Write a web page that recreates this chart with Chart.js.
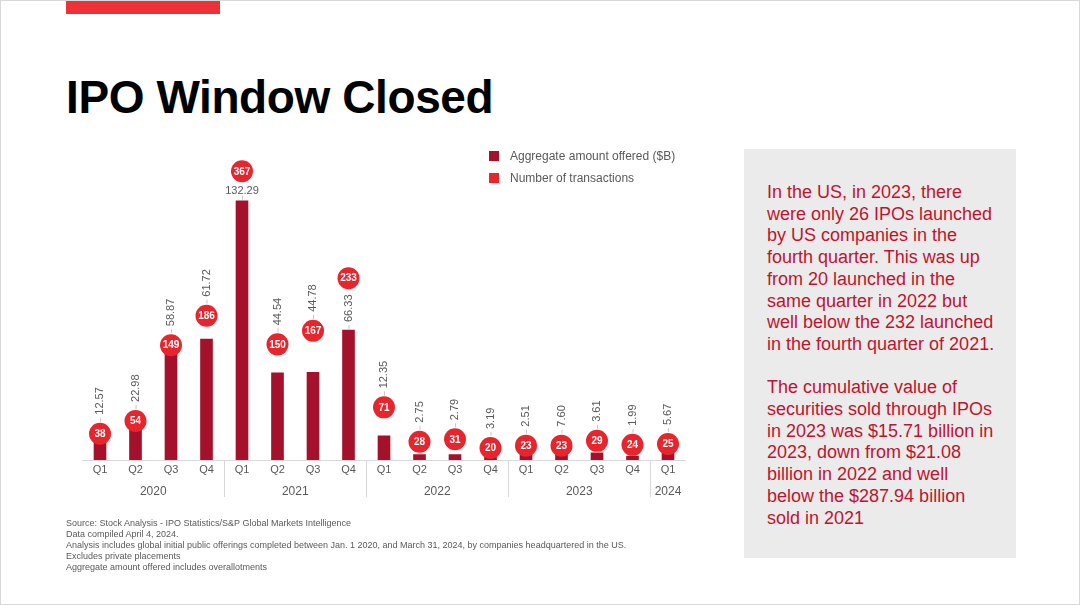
<!DOCTYPE html>
<html>
<head>
<meta charset="utf-8">
<title>IPO Window Closed</title>
<script src="https://cdn.jsdelivr.net/npm/chart.js@4.4.1/dist/chart.umd.min.js"></script>
<style>
  body { margin: 0; width: 1080px; height: 605px; position: relative; background: #fff; font-family: "Liberation Sans", Arial, sans-serif; overflow: hidden; }
  #frame { position: absolute; left: 0; top: 0; width: 1078px; height: 603px; border: 1px solid #d9d9d9; }
  #redbar { position: absolute; left: 66px; top: 1px; width: 154px; height: 13px; background: #ee3136; }
  h1 { position: absolute; left: 66px; top: 74px; margin: 0; font-size: 46px; line-height: 46px; font-weight: bold; color: #000; letter-spacing: -0.4px; }
  #chartBox { position: absolute; left: 66px; top: 140px; width: 640px; height: 380px; }
  #legend { position: absolute; left: 489px; top: 148px; font-size: 12px; color: #595959; }
  #legend div { height: 22px; line-height: 16px; }
  #legend span { display: inline-block; width: 10px; height: 10px; margin-right: 11px; vertical-align: -1px; }
  #panel { position: absolute; left: 744px; top: 149px; width: 272px; height: 409px; background: #ebebeb; }
  #panel p { position: absolute; left: 23px; top: 33px; margin: 0; font-size: 18px; line-height: 21.7px; color: #c0132f; white-space: nowrap; }
  #source { position: absolute; left: 66px; top: 518px; font-size: 9px; line-height: 11px; color: #595959; white-space: nowrap; }
</style>
</head>
<body>
<div id="frame"></div>
<div id="redbar"></div>
<h1>IPO Window Closed</h1>

<div id="chartBox"><canvas id="chart"></canvas></div>

<div id="legend">
  <div><span style="background:#a5102b"></span>Aggregate amount offered ($B)</div>
  <div><span style="background:#e8252d"></span>Number of transactions</div>
</div>

<div id="panel"><p>In the US, in 2023, there<br>were only 26 IPOs launched<br>by US companies in the<br>fourth quarter. This was up<br>from 20 launched in the<br>same quarter in 2022 but<br>well below the 232 launched<br>in the fourth quarter of 2021.<br><br>The cumulative value of<br>securities sold through IPOs<br>in 2023 was $15.71 billion in<br>2023, down from $21.08<br>billion in 2022 and well<br>below the $287.94 billion<br>sold in 2021</p></div>

<div id="source">
Source: Stock Analysis - IPO Statistics/S&amp;P Global Markets Intelligence<br>
Data compiled April 4, 2024.<br>
Analysis includes global initial public offerings completed between Jan. 1 2020, and March 31, 2024, by companies headquartered in the US.<br>
Excludes private placements<br>
Aggregate amount offered includes overallotments
</div>

<script>
// quarter labels and the year each quarter belongs to
var quarters = ['Q1','Q2','Q3','Q4','Q1','Q2','Q3','Q4','Q1','Q2','Q3','Q4','Q1','Q2','Q3','Q4','Q1'];
var yearOf = ['2020','2020','2020','2020','2021','2021','2021','2021','2022','2022','2022','2022','2023','2023','2023','2023','2024'];

// aggregate amount offered ($B)
var amounts = [12.57, 22.98, 58.87, 61.72, 132.29, 44.54, 44.78, 66.33, 12.35, 2.75, 2.79, 3.19, 2.51, 7.60, 3.61, 1.99, 5.67];
// number of transactions
var deals = [38, 54, 149, 186, 367, 150, 167, 233, 71, 28, 31, 20, 23, 23, 29, 24, 25];

var BAR_COLOR = '#a5102b';
var DOT_COLOR = '#e8252d';
var DOT_R = 11;

// value labels, circle numbers, year row and separators
var labelsPlugin = {
    id: 'ipoLabels',
    afterDatasetsDraw: function(chart) {
        var ctx = chart.ctx;
        var x = chart.scales.x, y = chart.scales.y, y2 = chart.scales.y2;
        var area = chart.chartArea;
        ctx.save();
        ctx.font = '11px "Liberation Sans", Arial, sans-serif';
        for (var i = 0; i < amounts.length; i++) {
            var px = x.getPixelForValue(i);
            var barTop = y.getPixelForValue(amounts[i]);
            var cy = y2.getPixelForValue(deals[i]);
            var txt = amounts[i].toFixed(2);
            var w = ctx.measureText(txt).width;
            var gap = barTop - (cy + DOT_R);
            var mode, base;
            if (gap >= w + 8) { mode = 'v'; base = barTop; }
            else if (gap >= 14 && cy - DOT_R - w - 10 < area.top) { mode = 'h'; base = barTop; }
            else { mode = 'v'; base = Math.min(barTop, cy - DOT_R); }

            ctx.strokeStyle = '#c8c8c8';
            ctx.lineWidth = 1;
            ctx.beginPath();
            ctx.moveTo(px + 0.5, base - 1);
            ctx.lineTo(px + 0.5, base - 5);
            ctx.stroke();

            ctx.fillStyle = '#595959';
            if (mode === 'h') {
                ctx.textAlign = 'center';
                ctx.textBaseline = 'alphabetic';
                ctx.fillText(txt, px, base - 7);
            } else {
                ctx.save();
                ctx.translate(px, base - 8);
                ctx.rotate(-Math.PI / 2);
                ctx.textAlign = 'left';
                ctx.textBaseline = 'middle';
                ctx.fillText(txt, 0, 0);
                ctx.restore();
            }
        }
        // numbers inside the circles
        var meta = chart.getDatasetMeta(1);
        ctx.font = 'bold 10px "Liberation Sans", Arial, sans-serif';
        ctx.fillStyle = '#ffffff';
        ctx.textAlign = 'center';
        ctx.textBaseline = 'middle';
        meta.data.forEach(function(pt, i) {
            ctx.fillText(String(deals[i]), pt.x, pt.y + 0.5);
        });

        // year row and group separators
        ctx.font = '12px "Liberation Sans", Arial, sans-serif';
        ctx.fillStyle = '#595959';
        ctx.strokeStyle = '#d9d9d9';
        var start = 0;
        for (var j = 1; j <= yearOf.length; j++) {
            if (j === yearOf.length || yearOf[j] !== yearOf[start]) {
                var cx = (x.getPixelForValue(start) + x.getPixelForValue(j - 1)) / 2;
                ctx.fillText(yearOf[start], cx, area.bottom + 32);
                if (j < yearOf.length) {
                    var sx = Math.round((x.getPixelForValue(j - 1) + x.getPixelForValue(j)) / 2) + 0.5;
                    ctx.beginPath();
                    ctx.moveTo(sx, area.bottom);
                    ctx.lineTo(sx, area.bottom + 37);
                    ctx.stroke();
                }
                start = j;
            }
        }
        ctx.restore();
    }
};

new Chart(document.getElementById('chart'), {
    type: 'bar',
    data: {
        labels: quarters,
        datasets: [{
            label: 'Aggregate amount offered ($B)',
            data: amounts,
            backgroundColor: BAR_COLOR,
            barThickness: 12,
            yAxisID: 'y',
            order: 2
        }, {
            type: 'line',
            label: 'Number of transactions',
            data: deals,
            showLine: false,
            pointRadius: DOT_R,
            pointHoverRadius: DOT_R,
            pointBackgroundColor: DOT_COLOR,
            pointBorderWidth: 0,
            yAxisID: 'y2',
            clip: false,
            order: 1
        }]
    },
    options: {
        responsive: true,
        maintainAspectRatio: false,
        animation: false,
        layout: { padding: { left: 16.25, right: 20.25, top: 10, bottom: 0 } },
        plugins: { legend: { display: false }, tooltip: { enabled: false } },
        scales: {
            x: {
                grid: { display: false, drawTicks: false },
                border: { display: true, color: '#d9d9d9' },
                ticks: { color: '#595959', font: { size: 11, family: '"Liberation Sans", Arial, sans-serif' }, padding: 3, maxRotation: 0, autoSkip: false },
                afterFit: function(scale) { scale.height = 60; }
            },
            y: { display: false, min: 0, max: 157.7 },
            y2: { display: false, min: 5, max: 392.5 }
        }
    },
    plugins: [labelsPlugin]
});
</script>
</body>
</html>
